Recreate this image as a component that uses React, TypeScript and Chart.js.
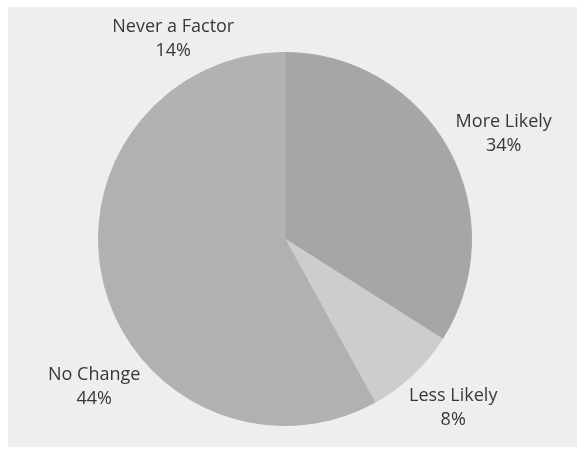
import React, { useEffect, useRef } from "react";
import { Chart, registerables } from "chart.js";

Chart.register(...registerables);

// Survey answers, clockwise from 12 o'clock
const categories = ["More Likely", "Less Likely", "No Change", "Never a Factor"];
const shares = [34, 8, 44, 14];
const sliceColors = ["#a6a6a6", "#cdcdcd", "#b1b1b1", "#b2b2b2"];

const FONT = "18px 'Open Sans', 'Noto Sans', sans-serif";
const LINE_H = 24;
const LABEL_GAP = 15;

// Two-line "Name / NN%" labels placed just outside each slice edge
const outsideLabels = {
  id: "outsideLabels",
  afterDatasetsDraw(chart: Chart) {
    const ctx = chart.ctx;
    const meta = chart.getDatasetMeta(0);
    ctx.save();
    ctx.font = FONT;
    ctx.fillStyle = "#383838";
    ctx.textAlign = "center";
    ctx.textBaseline = "middle";
    meta.data.forEach((el: any, i: number) => {
      const { x, y, startAngle, endAngle, outerRadius } = el.getProps(
        ["x", "y", "startAngle", "endAngle", "outerRadius"],
        true
      );
      const mid = (startAngle + endAngle) / 2;
      const dx = Math.cos(mid);
      const dy = Math.sin(mid);
      const lines = [categories[i], `${shares[i]}%`];
      const w = Math.max(...lines.map((t) => ctx.measureText(t).width));
      const h = LINE_H * lines.length;
      const ax = x + (outerRadius + LABEL_GAP) * dx;
      const ay = y + (outerRadius + LABEL_GAP) * dy;
      const cx = ax + (dx * w) / 2;
      const cy = ay + (dy * h) / 2 + 4;
      lines.forEach((t, k) => {
        ctx.fillText(t, cx, cy - h / 2 + LINE_H * (k + 0.5));
      });
    });
    ctx.restore();
  },
};

export default function App() {
  const canvasRef = useRef<HTMLCanvasElement>(null);

  useEffect(() => {
    if (!canvasRef.current) return;
    const chart = new Chart(canvasRef.current, {
      type: "pie",
      data: {
        labels: categories,
        datasets: [
          {
            data: shares,
            backgroundColor: sliceColors,
            borderColor: sliceColors,
            borderWidth: 1,
          },
        ],
      },
      options: {
        animation: false,
        responsive: false,
        maintainAspectRatio: false,
        layout: { padding: { left: 98, right: 108, top: 52, bottom: 29 } },
        plugins: {
          legend: { display: false },
          tooltip: { enabled: false },
        },
      },
      plugins: [outsideLabels],
    });
    return () => chart.destroy();
  }, []);

  return (
    <div
      style={{
        position: "absolute",
        left: 0,
        top: 0,
        width: 580,
        height: 455,
        background: "#ffffff",
        overflow: "hidden",
      }}
    >
      <div
        style={{
          position: "absolute",
          left: 8,
          top: 7,
          width: 569,
          height: 440,
          background: "#eeeeee",
        }}
      />
      <canvas
        ref={canvasRef}
        width={580}
        height={455}
        style={{ position: "absolute", left: 0, top: 0 }}
      />
    </div>
  );
}
